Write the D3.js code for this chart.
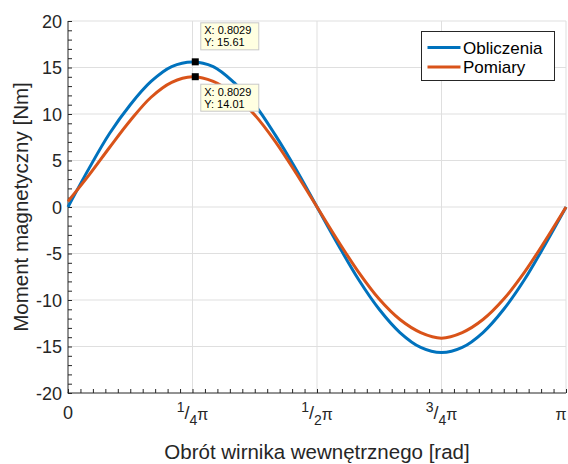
<!DOCTYPE html>
<html>
<head>
<meta charset="utf-8">
<script src="https://cdn.jsdelivr.net/npm/d3@7"></script>
<style>
    body { margin: 0; background: #fff; }
    text { font-family: "Liberation Sans", Arial, sans-serif; fill: #262626; }
</style>
</head>
<body>
<div id="my_dataviz"></div>
<script>
// Rotor angle in radians
const angle = [0, 0.131, 0.262, 0.393, 0.524, 0.654, 0.785, 0.916, 1.047, 1.178, 1.309, 1.440,
    1.571, 1.702, 1.833, 1.963, 2.094, 2.225, 2.356, 2.487, 2.618, 2.749, 2.880, 3.011, 3.142];
// Torque, computed
const obliczenia = [0.0, 4.1, 7.9, 11.0, 13.5, 15.1, 15.6, 15.1, 13.4, 11.0, 7.7, 4.0,
    0.0, -4.0, -7.8, -11.0, -13.5, -15.1, -15.65, -15.1, -13.5, -11.0, -7.8, -4.0, 0.0];
// Torque, measured
const pomiary = [0.6, 3.4, 6.4, 9.3, 11.8, 13.4, 14.0, 13.5, 12.1, 9.9, 7.0, 3.6,
    0.0, -3.6, -7.0, -9.9, -12.1, -13.5, -14.1, -13.5, -12.1, -9.9, -7.0, -3.6, 0.0];
const seriesNames = ["Obliczenia", "Pomiary"];
const seriesColors = ["#0072bd", "#d95319"];

// Data tips shown on the plot
const tipX = 0.8029;
const tipY = [15.61, 14.01];

// x tick labels as [numerator, denominator]
const xTicks = [0, Math.PI / 4, Math.PI / 2, 3 * Math.PI / 4, Math.PI];
const xTickLabels = [null, ["1", "4"], ["1", "2"], ["3", "4"], "π"];
const yTicks = [-20, -15, -10, -5, 0, 5, 10, 15, 20];

const width = 568, height = 464;
const margin = { left: 68, right: 2, top: 21, bottom: 71 };

const svg = d3.select("#my_dataviz")
    .append("svg")
    .attr("width", width)
    .attr("height", height);

const x = d3.scaleLinear().domain([0, Math.PI]).range([margin.left, width - margin.right]);
const y = d3.scaleLinear().domain([-20, 20]).range([height - margin.bottom, margin.top]);

// --------------------------------------
// Grid
const grid = svg.append("g").attr("stroke", "#dfdfdf").attr("stroke-width", 1);
grid.selectAll("line.gx")
    .data(xTicks.slice(1))
    .join("line")
    .attr("x1", d => x(d)).attr("x2", d => x(d))
    .attr("y1", y(-20)).attr("y2", y(20));
grid.selectAll("line.gy")
    .data(yTicks.slice(1))
    .join("line")
    .attr("x1", x(0)).attr("x2", x(Math.PI))
    .attr("y1", d => y(d)).attr("y2", d => y(d));

// --------------------------------------
// Axes (ticks inward, like matlab)
const minorX = d3.range(0, 41).map(i => i * Math.PI / 40);
const minorY = d3.range(-20, 21);

svg.append("g")
    .attr("transform", `translate(0,${y(-20)})`)
    .call(d3.axisTop(x).tickValues(minorX).tickSize(4).tickFormat(""))
    .call(g => g.select(".domain").remove())
    .call(g => g.selectAll("line").attr("stroke", "#262626"));
svg.append("g")
    .attr("transform", `translate(${x(0)},0)`)
    .call(d3.axisRight(y).tickValues(minorY).tickSize(4).tickFormat(""))
    .call(g => g.select(".domain").remove())
    .call(g => g.selectAll("line").attr("stroke", "#262626"));

svg.append("line")
    .attr("x1", x(0) - 0.5).attr("x2", x(Math.PI))
    .attr("y1", y(-20)).attr("y2", y(-20))
    .attr("stroke", "#262626");
svg.append("line")
    .attr("x1", x(0)).attr("x2", x(0))
    .attr("y1", y(20)).attr("y2", y(-20))
    .attr("stroke", "#262626");

// y tick labels
svg.append("g")
    .selectAll("text")
    .data(yTicks)
    .join("text")
    .attr("x", x(0) - 6)
    .attr("y", d => y(d) + 6.5)
    .attr("text-anchor", "end")
    .style("font-size", "18px")
    .text(d => d);

// x tick labels, fractions of pi
const xl = svg.append("g")
    .selectAll("text")
    .data(xTicks)
    .join("text")
    .attr("x", (d, i) => i === xTicks.length - 1 ? x(d) - 5 : x(d))
    .attr("y", 419)
    .attr("text-anchor", "middle")
    .style("font-size", "18px");
xl.each(function (d, i) {
    const t = d3.select(this);
    const lab = xTickLabels[i];
    if (lab === null) { t.text("0"); return; }
    if (typeof lab === "string") { t.append("tspan").style("font-size", "16px").attr("dy", 1).text(lab); return; }
    t.append("tspan").style("font-size", "14px").attr("dy", -7).text(lab[0]);
    t.append("tspan").attr("dy", 7).text("/");
    t.append("tspan").style("font-size", "14px").attr("dy", 6).text(lab[1]);
    t.append("tspan").style("font-size", "16px").attr("dy", -5).text("π");
});

// Axis titles
svg.append("text")
    .attr("x", x(Math.PI / 2))
    .attr("y", 459)
    .attr("text-anchor", "middle")
    .style("font-size", "20.5px")
    .text("Obrót wirnika wewnętrznego [rad]");
svg.append("text")
    .attr("transform", `translate(28,${y(0)}) rotate(-90)`)
    .attr("text-anchor", "middle")
    .style("font-size", "20.5px")
    .text("Moment magnetyczny [Nm]");

// --------------------------------------
// Curves
const seriesData = [obliczenia, pomiary];
const line = d3.line()
    .x((d, i) => x(angle[i]))
    .y(d => y(d))
    .curve(d3.curveCatmullRom);
svg.append("g")
    .selectAll("path")
    .data(seriesData)
    .join("path")
    .attr("fill", "none")
    .attr("stroke", (d, i) => seriesColors[i])
    .attr("stroke-width", 3)
    .attr("d", line);

// --------------------------------------
// Data tips
const tips = svg.append("g");
tipY.forEach(function (v, i) {
    tips.append("rect")
        .attr("x", x(tipX) - 3.5).attr("y", y(v) - 3.5)
        .attr("width", 7).attr("height", 7)
        .attr("fill", "#000");
    const bx = x(tipX) + 5.5;
    const by = i === 0 ? y(v) - 39 : y(v) + 7.5;
    tips.append("rect")
        .attr("x", bx).attr("y", by)
        .attr("width", 58).attr("height", 27)
        .attr("fill", "#ffffe1")
        .attr("stroke", "#c8c8c8");
    tips.append("text")
        .attr("x", bx + 3.5).attr("y", by + 11.5)
        .style("font-size", "11px")
        .style("fill", "#000")
        .text("X: " + tipX.toFixed(4));
    tips.append("text")
        .attr("x", bx + 3.5).attr("y", by + 23.5)
        .style("font-size", "11px")
        .style("fill", "#000")
        .text("Y: " + v.toFixed(2));
});

// --------------------------------------
// Legend
const legend = svg.append("g").attr("transform", "translate(421.5,31.5)");
legend.append("rect")
    .attr("width", 133).attr("height", 49)
    .attr("fill", "#fff")
    .attr("stroke", "#262626");
seriesNames.forEach(function (name, i) {
    legend.append("line")
        .attr("x1", 6).attr("x2", 39)
        .attr("y1", 16 + i * 19.5).attr("y2", 16 + i * 19.5)
        .attr("stroke", seriesColors[i])
        .attr("stroke-width", 3);
    legend.append("text")
        .attr("x", 41.5).attr("y", 22 + i * 19.5)
        .style("font-size", "17px")
        .style("fill", "#000")
        .text(name);
});
</script>
</body>
</html>
